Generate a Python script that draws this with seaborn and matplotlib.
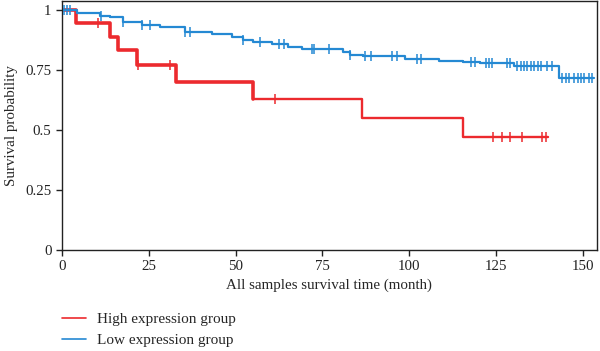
import numpy as np
import pandas as pd
import matplotlib
matplotlib.use("Agg")
import matplotlib.pyplot as plt
from matplotlib.lines import Line2D
import seaborn as sns

# Kaplan-Meier steps
high_time = [0, 4, 14, 16.2, 21.5, 33, 55, 86.3, 115.3, 140]
high_surv = [1, 0.945, 0.889, 0.833, 0.77, 0.70, 0.628, 0.55, 0.47, 0.47]
high_censor = [10.3, 22, 31.1, 61.4, 124, 126.8, 129, 132.3, 138.3, 139.2]

low_time = [0, 4.3, 11, 13.8, 17.6, 23, 28.2, 35.4, 43.1, 48.9, 52.2, 55, 60.4,
            65.1, 69, 81, 83, 86.8, 98.8, 108.4, 115.4, 120.4, 130, 143, 153]
low_surv = [1, 0.986, 0.976, 0.969, 0.949, 0.9375, 0.928, 0.91, 0.899, 0.886, 0.875,
            0.865, 0.857, 0.847, 0.8375, 0.826, 0.8125, 0.808, 0.796, 0.789, 0.782,
            0.778, 0.768, 0.715, 0.715]
low_censor = [0.5, 1.5, 2.5, 11.3, 17.6, 23, 25.5, 35.4, 37, 52.2, 57, 62.5, 63.8,
              71.9, 72.5, 77, 83, 87.3, 88.9, 95, 96.4, 102.2, 103.4, 117.8, 119,
              122.2, 122.8, 123.8, 128, 129, 131, 132, 133, 134, 135, 136, 137, 138,
              139.5, 141, 144, 145, 146, 147.3, 148.4, 149.4, 150.3, 151.6, 152.5]

groups = ["High expression group", "Low expression group"]
colors = {"High expression group": "#ec2a2e", "Low expression group": "#2589d3"}

sns.set_style("ticks")
plt.rcParams["font.family"] = ["Liberation Serif", "DejaVu Serif"]


def censor_points(times, surv, cens):
    idx = np.searchsorted(times, cens, side="right") - 1
    return pd.DataFrame({"t": cens, "s": np.array(surv)[idx]})


fig = plt.figure(figsize=(6, 3.51), dpi=100)
ax = fig.add_axes([0.103, 0.288, 0.892, 0.709])

# high group: thicker line for the early part, thinner later (as in the figure)
hi = pd.DataFrame({"t": high_time, "s": high_surv})
split = 6
sns.lineplot(data=hi.iloc[:split + 1], x="t", y="s", ax=ax, color=colors[groups[0]],
             lw=2.6, drawstyle="steps-post", estimator=None, sort=False)
sns.lineplot(data=hi.iloc[split:], x="t", y="s", ax=ax, color=colors[groups[0]],
             lw=1.7, drawstyle="steps-post", estimator=None, sort=False)
sns.scatterplot(data=censor_points(high_time, high_surv, high_censor), x="t", y="s",
                ax=ax, marker="|", s=45, color=colors[groups[0]], linewidth=1.1, zorder=3)

lo = pd.DataFrame({"t": low_time, "s": low_surv})
sns.lineplot(data=lo, x="t", y="s", ax=ax, color=colors[groups[1]], lw=1.6,
             drawstyle="steps-post", estimator=None, sort=False)
sns.scatterplot(data=censor_points(low_time, low_surv, low_censor), x="t", y="s",
                ax=ax, marker="|", s=55, color=colors[groups[1]], linewidth=1.1, zorder=3)

ax.set_xlim(0, 154)
ax.set_ylim(0, 1.0375)
ax.set_xticks([0, 25, 50, 75, 100, 125, 150])
ax.set_yticks([0, 0.25, 0.5, 0.75, 1])
ax.set_yticklabels(["0", "0.25", "0.5", "0.75", "1"])
ax.tick_params(direction="out", length=4, width=1, labelsize=10.7, colors="#222222")
for sp in ax.spines.values():
    sp.set_linewidth(1)
    sp.set_color("#222222")
ax.set_xlabel("All samples survival time (month)", fontsize=10.8, labelpad=4)
ax.set_ylabel("Survival probability", fontsize=10.8, labelpad=5)

handles = [Line2D([], [], color=colors[g], lw=1.2) for g in groups]
fig.legend(handles, groups, loc="upper left", bbox_to_anchor=(0.103, 0.11),
           frameon=False, fontsize=11, handlelength=1.6, handletextpad=0.7,
           labelspacing=0.5, borderaxespad=0, borderpad=0)

fig.savefig("out.png", dpi=100)
